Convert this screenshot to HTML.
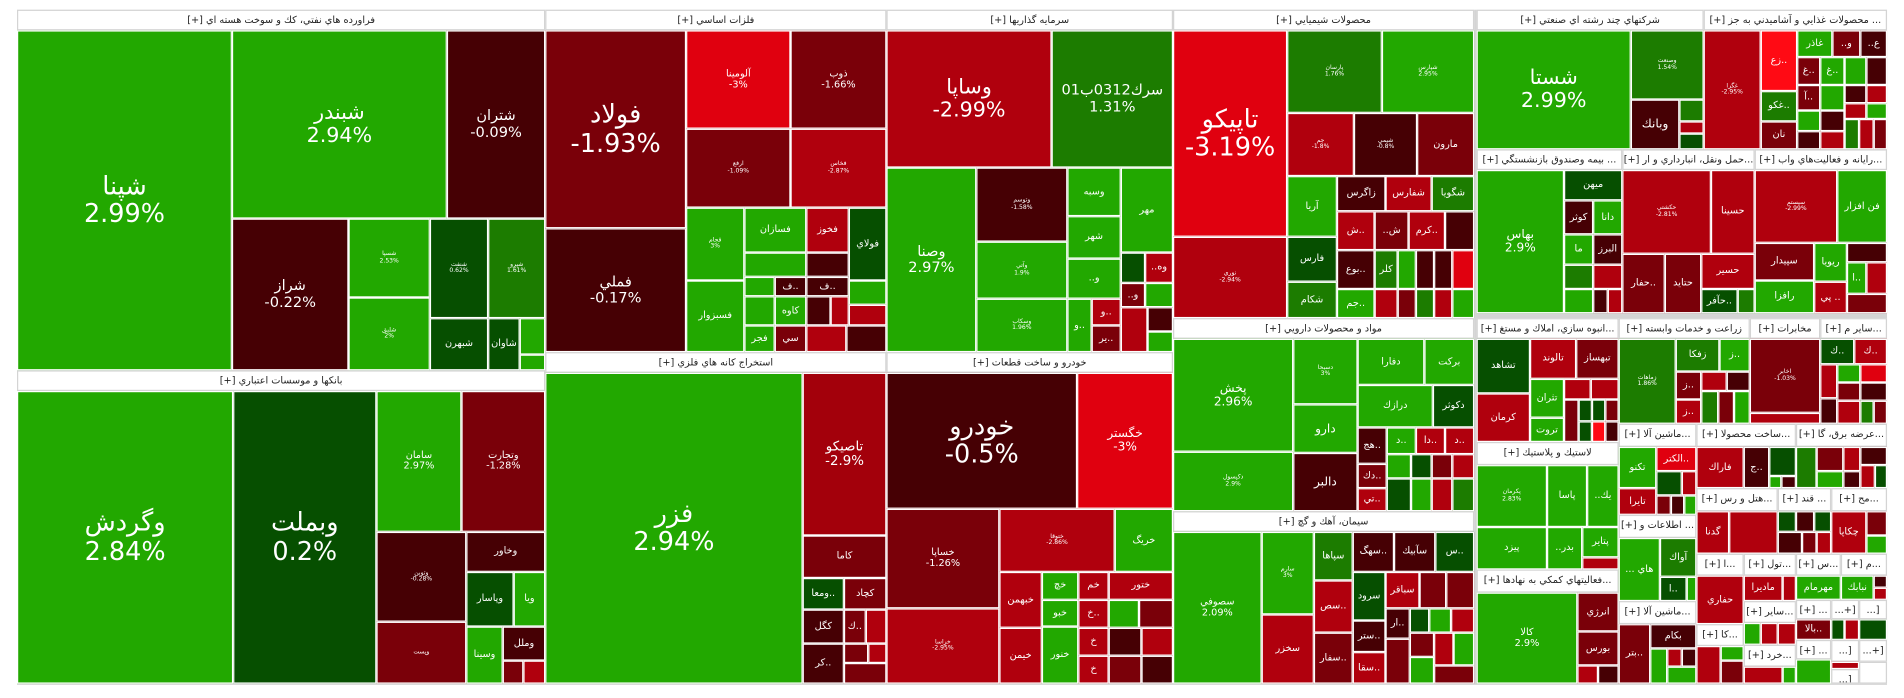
<!DOCTYPE html>
<html><head><meta charset="utf-8">
<style>
html,body{margin:0;padding:0;background:#fff;width:1904px;height:698px;overflow:hidden}
#w{position:absolute;left:0;top:0;width:1568px;height:575px;transform:scale(1.2143);transform-origin:0 0}
#bg{position:absolute;left:14px;top:8px;width:1540px;height:556px;background:#d4d4d4}
.c{position:absolute;box-sizing:border-box;border:1px solid #fff;color:#fff;display:flex;flex-direction:column;align-items:center;justify-content:center;text-align:center;line-height:1.1;overflow:hidden;font-family:"DejaVu Sans","Liberation Sans",sans-serif;font-size:8px;white-space:nowrap}
.h{position:absolute;box-sizing:border-box;background:#fff;border:1px solid #d4d4d4;color:#222;font-family:"DejaVu Sans","Liberation Sans",sans-serif;font-size:8px;text-align:center;line-height:16px;overflow:hidden;white-space:nowrap;direction:rtl}
.g{background:#22a800}.dg{background:#064f00}.mg{background:#1c7c00}
.r{background:#e0000f}.rr{background:#ff0a14}.r2{background:#b0000d}.dr{background:#7a0009}.xr{background:#460004}
.f1{font-size:21px}.f2{font-size:17px}.f3{font-size:12px}.f4{font-size:9px}.f5{font-size:5px}
</style></head><body><div id="w">
<div id="bg"></div>
<!-- Sector A -->
<div class="h" style="left:14px;top:8px;width:435px;height:17px">فراورده هاي نفتي، كك و سوخت هسته اي [+]</div>
<div class="c g f1" style="left:14px;top:25px;width:177px;height:280px">شپنا<br>2.99%</div>
<div class="c g f2" style="left:191px;top:25px;width:177px;height:155px">شبندر<br>2.94%</div>
<div class="c xr f3" style="left:368px;top:25px;width:81px;height:155px">شتران<br>-0.09%</div>
<div class="c xr f3" style="left:191px;top:180px;width:96px;height:125px">شراز<br>-0.22%</div>
<div class="c g f5" style="left:287px;top:180px;width:67px;height:65px">شسپا<br>2.53%</div>
<div class="c g f5" style="left:287px;top:245px;width:67px;height:60px">شلیق<br>2%</div>
<div class="c dg f5" style="left:354px;top:180px;width:48px;height:82px">شنفت<br>0.62%</div>
<div class="c mg f5" style="left:402px;top:180px;width:47px;height:82px">شپرو<br>1.61%</div>
<div class="c dg" style="left:354px;top:262px;width:48px;height:43px">شبهرن</div>
<div class="c dg" style="left:402px;top:262px;width:26px;height:43px">شاوان</div>
<div class="c g" style="left:428px;top:262px;width:21px;height:30px"></div>
<div class="c g" style="left:428px;top:292px;width:21px;height:13px"></div>
<!-- Sector B -->
<div class="h" style="left:14px;top:305px;width:435px;height:17px">بانكها و موسسات اعتباري [+]</div>
<div class="c g f1" style="left:14px;top:322px;width:178px;height:241px">وگردش<br>2.84%</div>
<div class="c dg f1" style="left:192px;top:322px;width:118px;height:241px">وبملت<br>0.2%</div>
<div class="c g" style="left:310px;top:322px;width:70px;height:116px">سامان<br>2.97%</div>
<div class="c dr" style="left:380px;top:322px;width:69px;height:116px">وتجارت<br>-1.28%</div>
<div class="c xr f5" style="left:310px;top:438px;width:74px;height:74px">وتوبن<br>-0.28%</div>
<div class="c dr f5" style="left:310px;top:512px;width:74px;height:51px">وپست</div>
<div class="c xr" style="left:384px;top:438px;width:65px;height:33px">وخاور</div>
<div class="c dg" style="left:384px;top:471px;width:39px;height:45px">وپاسار</div>
<div class="c g" style="left:423px;top:471px;width:26px;height:45px">ويا</div>
<div class="c g" style="left:384px;top:516px;width:30px;height:47px">وسينا</div>
<div class="c xr" style="left:414px;top:516px;width:35px;height:28px">وملل</div>
<div class="c dr" style="left:414px;top:544px;width:17px;height:19px"></div>
<div class="c r2" style="left:431px;top:544px;width:18px;height:19px"></div>
<!-- Metals -->
<div class="h" style="left:449px;top:8px;width:281px;height:17px">فلزات اساسي [+]</div>
<div class="c dr f1" style="left:449px;top:25px;width:116px;height:163px">فولاد<br>-1.93%</div>
<div class="c xr f3" style="left:449px;top:188px;width:116px;height:102px">فملي<br>-0.17%</div>
<div class="c r" style="left:565px;top:25px;width:86px;height:81px">آلومينا<br>-3%</div>
<div class="c dr" style="left:651px;top:25px;width:79px;height:81px">ذوب<br>-1.66%</div>
<div class="c dr f5" style="left:565px;top:106px;width:86px;height:65px">ارفع<br>-1.09%</div>
<div class="c r2 f5" style="left:651px;top:106px;width:79px;height:65px">فخاس<br>-2.87%</div>
<div class="c g f5" style="left:565px;top:171px;width:48px;height:60px">فجام<br>3%</div>
<div class="c g" style="left:613px;top:171px;width:51px;height:37px">فسازان</div>
<div class="c r2" style="left:664px;top:171px;width:35px;height:37px">فخوز</div>
<div class="c dg" style="left:699px;top:171px;width:31px;height:60px">فولاي</div>
<div class="c g" style="left:565px;top:231px;width:48px;height:59px">فسبزوار</div>
<div class="c g" style="left:613px;top:208px;width:51px;height:20px"></div>
<div class="c g" style="left:613px;top:228px;width:25px;height:16px"></div>
<div class="c xr" style="left:638px;top:228px;width:26px;height:16px">ف..</div>
<div class="c xr" style="left:664px;top:208px;width:35px;height:20px"></div>
<div class="c xr" style="left:664px;top:228px;width:35px;height:16px">ف..</div>
<div class="c g" style="left:613px;top:244px;width:25px;height:24px"></div>
<div class="c g" style="left:638px;top:244px;width:26px;height:24px">كاوه</div>
<div class="c xr" style="left:664px;top:244px;width:20px;height:24px"></div>
<div class="c r2" style="left:684px;top:244px;width:15px;height:24px"></div>
<div class="c g" style="left:699px;top:231px;width:31px;height:20px"></div>
<div class="c r2" style="left:699px;top:251px;width:31px;height:17px"></div>
<div class="c g" style="left:613px;top:268px;width:25px;height:22px">فجر</div>
<div class="c dr" style="left:638px;top:268px;width:26px;height:22px">سي</div>
<div class="c r2" style="left:664px;top:268px;width:33px;height:22px"></div>
<div class="c xr" style="left:697px;top:268px;width:33px;height:22px"></div>
<!-- Mining -->
<div class="h" style="left:449px;top:290px;width:281px;height:17px">استخراج كانه هاي فلزي [+]</div>
<div class="c g f1" style="left:449px;top:307px;width:212px;height:256px">فزر<br>2.94%</div>
<div class="c r2" style="left:661px;top:307px;width:69px;height:134px;font-size:11px;background:#a3000b">تاصيكو<br>-2.9%</div>
<div class="c dr" style="left:661px;top:441px;width:69px;height:35px">كاما</div>
<div class="c dg" style="left:661px;top:476px;width:34px;height:26px">ومعا..</div>
<div class="c dr" style="left:695px;top:476px;width:35px;height:26px">كچاد</div>
<div class="c xr" style="left:661px;top:502px;width:34px;height:28px">كگل</div>
<div class="c dr" style="left:695px;top:502px;width:18px;height:28px">ك..</div>
<div class="c r2" style="left:713px;top:502px;width:17px;height:28px"></div>
<div class="c xr" style="left:661px;top:530px;width:34px;height:33px">كر..</div>
<div class="c dr" style="left:695px;top:530px;width:20px;height:16px"></div>
<div class="c r2" style="left:715px;top:530px;width:15px;height:16px"></div>
<div class="c dr" style="left:695px;top:546px;width:35px;height:17px"></div>
<!-- Investments -->
<div class="h" style="left:730px;top:8px;width:236px;height:17px">سرمايه گذاريها [+]</div>
<div class="c r2 f2" style="left:730px;top:25px;width:136px;height:113px">وساپا<br>-2.99%</div>
<div class="c mg f3" style="left:866px;top:25px;width:100px;height:113px">سرك0312ب01<br>1.31%</div>
<div class="c g f3" style="left:730px;top:138px;width:74px;height:152px">وصنا<br>2.97%</div>
<div class="c xr f5" style="left:804px;top:138px;width:75px;height:61px">وتوسم<br>-1.58%</div>
<div class="c g f5" style="left:804px;top:199px;width:75px;height:47px">وآتي<br>1.9%</div>
<div class="c g f5" style="left:804px;top:246px;width:75px;height:44px">وسكاب<br>1.96%</div>
<div class="c g" style="left:879px;top:138px;width:44px;height:40px">وسبه</div>
<div class="c g" style="left:923px;top:138px;width:43px;height:70px">مهر</div>
<div class="c g" style="left:879px;top:178px;width:44px;height:35px">شهر</div>
<div class="c dg" style="left:923px;top:208px;width:20px;height:25px"></div>
<div class="c r2" style="left:943px;top:208px;width:23px;height:25px">..وه</div>
<div class="c g" style="left:879px;top:213px;width:44px;height:33px">..و</div>
<div class="c dr" style="left:923px;top:233px;width:20px;height:20px">..و</div>
<div class="c g" style="left:943px;top:233px;width:23px;height:20px"></div>
<div class="c g" style="left:879px;top:246px;width:20px;height:44px">و..</div>
<div class="c r2" style="left:899px;top:246px;width:24px;height:22px">و..</div>
<div class="c dr" style="left:899px;top:268px;width:24px;height:22px">ير..</div>
<div class="c r2" style="left:923px;top:253px;width:22px;height:37px"></div>
<div class="c xr" style="left:945px;top:253px;width:21px;height:20px"></div>
<div class="c g" style="left:945px;top:273px;width:21px;height:17px"></div>
<!-- Auto -->
<div class="h" style="left:730px;top:290px;width:236px;height:17px">خودرو و ساخت قطعات [+]</div>
<div class="c xr f1" style="left:730px;top:307px;width:157px;height:112px">خودرو<br>-0.5%</div>
<div class="c r" style="left:887px;top:307px;width:79px;height:112px;font-size:10px">خگستر<br>-3%</div>
<div class="c dr" style="left:730px;top:419px;width:93px;height:82px">خساپا<br>-1.26%</div>
<div class="c r2 f5" style="left:730px;top:501px;width:93px;height:62px">خراسا<br>-2.95%</div>
<div class="c r2 f5" style="left:823px;top:419px;width:95px;height:52px">ختوقا<br>-2.86%</div>
<div class="c g" style="left:918px;top:419px;width:48px;height:52px">خريگ</div>
<div class="c r2" style="left:823px;top:471px;width:35px;height:46px">خبهمن</div>
<div class="c r2" style="left:823px;top:517px;width:35px;height:46px">خيمن</div>
<div class="c g" style="left:858px;top:471px;width:30px;height:23px">خچ</div>
<div class="c g" style="left:858px;top:494px;width:30px;height:22px">خبو</div>
<div class="c g" style="left:858px;top:516px;width:30px;height:47px">خنور</div>
<div class="c r2" style="left:888px;top:471px;width:25px;height:23px">خم</div>
<div class="c r2" style="left:913px;top:471px;width:53px;height:23px">ختور</div>
<div class="c r2" style="left:888px;top:494px;width:25px;height:23px">خ..</div>
<div class="c g" style="left:913px;top:494px;width:25px;height:23px"></div>
<div class="c dr" style="left:938px;top:494px;width:28px;height:23px"></div>
<div class="c r2" style="left:888px;top:517px;width:25px;height:23px">خ</div>
<div class="c r2" style="left:888px;top:540px;width:25px;height:23px">خ</div>
<div class="c xr" style="left:913px;top:517px;width:27px;height:23px"></div>
<div class="c r2" style="left:940px;top:517px;width:26px;height:23px"></div>
<div class="c dr" style="left:913px;top:540px;width:27px;height:23px"></div>
<div class="c xr" style="left:940px;top:540px;width:26px;height:23px"></div>
<!-- Chemical -->
<div class="h" style="left:966px;top:8px;width:248px;height:17px">محصولات شيميايي [+]</div>
<div class="c r f1" style="left:966px;top:25px;width:94px;height:170px">تاپيكو<br>-3.19%</div>
<div class="c r2 f5" style="left:966px;top:195px;width:94px;height:67px">نوري<br>-2.94%</div>
<div class="c mg f5" style="left:1060px;top:25px;width:78px;height:68px">پارسان<br>1.76%</div>
<div class="c g f5" style="left:1138px;top:25px;width:76px;height:68px">شپارس<br>2.95%</div>
<div class="c r2 f5" style="left:1060px;top:93px;width:55px;height:52px">جم<br>-1.8%</div>
<div class="c xr f5" style="left:1115px;top:93px;width:52px;height:52px">شيمي<br>-0.8%</div>
<div class="c dr" style="left:1167px;top:93px;width:47px;height:52px">مارون</div>
<div class="c g" style="left:1060px;top:145px;width:41px;height:50px">آريا</div>
<div class="c xr" style="left:1101px;top:145px;width:40px;height:29px">زاگرس</div>
<div class="c r2" style="left:1141px;top:145px;width:38px;height:29px">شفارس</div>
<div class="c mg" style="left:1179px;top:145px;width:35px;height:29px">شگويا</div>
<div class="c dg" style="left:1060px;top:195px;width:41px;height:37px">فارس</div>
<div class="c mg" style="left:1060px;top:232px;width:41px;height:30px">شكام</div>
<div class="c r2" style="left:1101px;top:174px;width:31px;height:32px">ش..</div>
<div class="c dr" style="left:1132px;top:174px;width:28px;height:32px">..ش</div>
<div class="c r2" style="left:1160px;top:174px;width:30px;height:32px">كرم..</div>
<div class="c xr" style="left:1190px;top:174px;width:24px;height:32px"></div>
<div class="c xr" style="left:1101px;top:206px;width:31px;height:32px">بوع..</div>
<div class="c mg" style="left:1132px;top:206px;width:19px;height:32px">كلر</div>
<div class="c g" style="left:1151px;top:206px;width:15px;height:32px"></div>
<div class="c xr" style="left:1166px;top:206px;width:15px;height:32px"></div>
<div class="c xr" style="left:1181px;top:206px;width:15px;height:32px"></div>
<div class="c r" style="left:1196px;top:206px;width:18px;height:32px"></div>
<div class="c g" style="left:1101px;top:238px;width:31px;height:24px">جم..</div>
<div class="c r2" style="left:1132px;top:238px;width:19px;height:24px"></div>
<div class="c dr" style="left:1151px;top:238px;width:15px;height:24px"></div>
<div class="c mg" style="left:1166px;top:238px;width:15px;height:24px"></div>
<div class="c r2" style="left:1181px;top:238px;width:15px;height:24px"></div>
<div class="c g" style="left:1196px;top:238px;width:18px;height:24px"></div>
<!-- Pharma -->
<div class="h" style="left:966px;top:262px;width:248px;height:17px">مواد و محصولات دارويي [+]</div>
<div class="c g" style="left:966px;top:279px;width:99px;height:93px;font-size:10px">پخش<br>2.96%</div>
<div class="c g f5" style="left:966px;top:372px;width:99px;height:49px">دكپسول<br>2.9%</div>
<div class="c g f5" style="left:1065px;top:279px;width:53px;height:54px">دسبحا<br>3%</div>
<div class="c g" style="left:1065px;top:333px;width:53px;height:40px;font-size:10px">دارو</div>
<div class="c xr" style="left:1065px;top:373px;width:53px;height:48px;font-size:10px">دالبر</div>
<div class="c g" style="left:1118px;top:279px;width:55px;height:38px">دفارا</div>
<div class="c g" style="left:1173px;top:279px;width:41px;height:38px">بركت</div>
<div class="c g" style="left:1118px;top:317px;width:62px;height:35px">درازك</div>
<div class="c dg" style="left:1180px;top:317px;width:34px;height:35px">دكوثر</div>
<div class="c xr" style="left:1118px;top:352px;width:24px;height:30px">هج..</div>
<div class="c dr" style="left:1118px;top:382px;width:24px;height:20px">دك..</div>
<div class="c r2" style="left:1118px;top:402px;width:24px;height:19px">تي..</div>
<div class="c g" style="left:1142px;top:352px;width:24px;height:22px">د..</div>
<div class="c r2" style="left:1166px;top:352px;width:24px;height:22px">دا..</div>
<div class="c r2" style="left:1190px;top:352px;width:24px;height:22px">د..</div>
<div class="c g" style="left:1142px;top:374px;width:20px;height:20px"></div>
<div class="c dg" style="left:1162px;top:374px;width:17px;height:20px"></div>
<div class="c dr" style="left:1179px;top:374px;width:17px;height:20px"></div>
<div class="c r2" style="left:1196px;top:374px;width:18px;height:20px"></div>
<div class="c dg" style="left:1142px;top:394px;width:20px;height:27px"></div>
<div class="c g" style="left:1162px;top:394px;width:17px;height:27px"></div>
<div class="c r2" style="left:1179px;top:394px;width:17px;height:27px"></div>
<div class="c mg" style="left:1196px;top:394px;width:18px;height:27px"></div>
<!-- Cement -->
<div class="h" style="left:966px;top:421px;width:248px;height:17px">سيمان، آهك و گچ [+]</div>
<div class="c g" style="left:966px;top:438px;width:73px;height:125px">سصوفي<br>2.09%</div>
<div class="c g f5" style="left:1039px;top:438px;width:43px;height:68px">سارم<br>3%</div>
<div class="c r2" style="left:1039px;top:506px;width:43px;height:57px">سخزر</div>
<div class="c mg" style="left:1082px;top:438px;width:32px;height:40px">سپاها</div>
<div class="c r2" style="left:1082px;top:478px;width:32px;height:43px">سص..</div>
<div class="c dr" style="left:1082px;top:521px;width:32px;height:42px">سفار..</div>
<div class="c xr" style="left:1114px;top:438px;width:34px;height:33px">سهگ..</div>
<div class="c xr" style="left:1148px;top:438px;width:34px;height:33px">سآبيك</div>
<div class="c dg" style="left:1182px;top:438px;width:32px;height:33px">س..</div>
<div class="c dg" style="left:1114px;top:471px;width:27px;height:40px">سرود</div>
<div class="c r2" style="left:1141px;top:471px;width:28px;height:30px">سباقر</div>
<div class="c dr" style="left:1169px;top:471px;width:22px;height:30px"></div>
<div class="c dr" style="left:1191px;top:471px;width:23px;height:30px"></div>
<div class="c xr" style="left:1114px;top:511px;width:27px;height:26px">ستر..</div>
<div class="c r2" style="left:1114px;top:537px;width:27px;height:26px">سقا..</div>
<div class="c xr" style="left:1141px;top:501px;width:20px;height:25px">ار..</div>
<div class="c dg" style="left:1161px;top:501px;width:16px;height:20px"></div>
<div class="c g" style="left:1177px;top:501px;width:18px;height:20px"></div>
<div class="c r2" style="left:1195px;top:501px;width:19px;height:20px"></div>
<div class="c dr" style="left:1141px;top:526px;width:20px;height:37px"></div>
<div class="c dr" style="left:1161px;top:521px;width:20px;height:20px"></div>
<div class="c g" style="left:1161px;top:541px;width:20px;height:22px"></div>
<div class="c r2" style="left:1181px;top:521px;width:16px;height:27px"></div>
<div class="c g" style="left:1197px;top:521px;width:17px;height:27px"></div>
<div class="c dr" style="left:1181px;top:548px;width:33px;height:15px"></div>
<!-- Multi-industry -->
<div class="h" style="left:1216px;top:8px;width:187px;height:17px">شركتهاي چند رشته اي صنعتي [+]</div>
<div class="c g f2" style="left:1216px;top:25px;width:127px;height:98px">شستا<br>2.99%</div>
<div class="c mg f5" style="left:1343px;top:25px;width:60px;height:57px">وصنعت<br>1.54%</div>
<div class="c xr" style="left:1343px;top:82px;width:40px;height:41px;font-size:10px">وبانك</div>
<div class="c mg" style="left:1383px;top:82px;width:20px;height:18px"></div>
<div class="c r2" style="left:1383px;top:100px;width:20px;height:10px"></div>
<div class="c dg" style="left:1383px;top:110px;width:20px;height:13px"></div>
<!-- Food -->
<div class="h" style="left:1403px;top:8px;width:151px;height:17px">... محصولات غذايي و آشاميدني به جز [+]</div>
<div class="c r2 f5" style="left:1403px;top:25px;width:47px;height:98px">غگرا<br>-2.95%</div>
<div class="c rr" style="left:1450px;top:25px;width:30px;height:50px">زع..</div>
<div class="c mg" style="left:1450px;top:75px;width:30px;height:25px">غكو..</div>
<div class="c dr" style="left:1450px;top:100px;width:30px;height:23px">نان</div>
<div class="c g" style="left:1480px;top:25px;width:29px;height:22px">غاذر</div>
<div class="c dr" style="left:1509px;top:25px;width:23px;height:22px">..و</div>
<div class="c xr" style="left:1532px;top:25px;width:22px;height:22px">..ع</div>
<div class="c dr" style="left:1480px;top:47px;width:19px;height:23px">غ..</div>
<div class="c g" style="left:1499px;top:47px;width:20px;height:23px">غ..</div>
<div class="c g" style="left:1519px;top:47px;width:18px;height:23px"></div>
<div class="c xr" style="left:1537px;top:47px;width:17px;height:23px"></div>
<div class="c dr" style="left:1480px;top:70px;width:19px;height:21px">آ..</div>
<div class="c g" style="left:1480px;top:91px;width:19px;height:17px"></div>
<div class="c xr" style="left:1480px;top:108px;width:19px;height:15px"></div>
<div class="c g" style="left:1499px;top:70px;width:20px;height:21px"></div>
<div class="c xr" style="left:1499px;top:91px;width:20px;height:17px"></div>
<div class="c r2" style="left:1499px;top:108px;width:20px;height:15px"></div>
<div class="c xr" style="left:1519px;top:70px;width:18px;height:15px"></div>
<div class="c r2" style="left:1537px;top:70px;width:17px;height:15px"></div>
<div class="c r2" style="left:1519px;top:85px;width:18px;height:13px"></div>
<div class="c g" style="left:1537px;top:85px;width:17px;height:13px"></div>
<div class="c mg" style="left:1519px;top:98px;width:12px;height:25px"></div>
<div class="c r2" style="left:1531px;top:98px;width:12px;height:25px"></div>
<div class="c dr" style="left:1543px;top:98px;width:11px;height:25px"></div>
<!-- Insurance -->
<div class="h" style="left:1216px;top:123px;width:120px;height:17px">... بيمه وصندوق بازنشستگي [+]</div>
<div class="c g" style="left:1216px;top:140px;width:72px;height:118px;font-size:10px">بهاس<br>2.9%</div>
<div class="c dg" style="left:1288px;top:140px;width:48px;height:25px">ميهن</div>
<div class="c xr" style="left:1288px;top:165px;width:24px;height:28px">كوثر</div>
<div class="c g" style="left:1312px;top:165px;width:24px;height:28px">دانا</div>
<div class="c g" style="left:1288px;top:193px;width:24px;height:25px">ما</div>
<div class="c xr" style="left:1312px;top:193px;width:24px;height:25px">البرز</div>
<div class="c mg" style="left:1288px;top:218px;width:24px;height:20px"></div>
<div class="c r2" style="left:1312px;top:218px;width:24px;height:20px"></div>
<div class="c g" style="left:1288px;top:238px;width:24px;height:20px"></div>
<div class="c xr" style="left:1312px;top:238px;width:12px;height:20px"></div>
<div class="c r2" style="left:1324px;top:238px;width:12px;height:20px"></div>
<!-- Transport -->
<div class="h" style="left:1336px;top:123px;width:109px;height:17px">...حمل ونقل، انبارداري و ار [+]</div>
<div class="c r2 f5" style="left:1336px;top:140px;width:73px;height:69px">حكشتي<br>-2.81%</div>
<div class="c r2" style="left:1409px;top:140px;width:36px;height:69px">حسينا</div>
<div class="c dr" style="left:1336px;top:209px;width:35px;height:49px">حفار..</div>
<div class="c dr" style="left:1371px;top:209px;width:30px;height:49px">حتايد</div>
<div class="c r2" style="left:1401px;top:209px;width:44px;height:29px">حسير</div>
<div class="c dg" style="left:1401px;top:238px;width:30px;height:20px">حآفر..</div>
<div class="c mg" style="left:1431px;top:238px;width:14px;height:20px"></div>
<!-- IT -->
<div class="h" style="left:1445px;top:123px;width:109px;height:17px">...رايانه و فعاليت‌هاي واب [+]</div>
<div class="c r2 f5" style="left:1445px;top:140px;width:68px;height:60px">سيستم<br>-2.99%</div>
<div class="c g" style="left:1513px;top:140px;width:41px;height:60px">فن افزار</div>
<div class="c dr" style="left:1445px;top:200px;width:49px;height:31px">سپيدار</div>
<div class="c g" style="left:1445px;top:231px;width:49px;height:27px">رافزا</div>
<div class="c g" style="left:1494px;top:200px;width:27px;height:32px">ريويا</div>
<div class="c xr" style="left:1521px;top:200px;width:33px;height:16px"></div>
<div class="c g" style="left:1521px;top:216px;width:16px;height:26px">ا..</div>
<div class="c r2" style="left:1537px;top:216px;width:17px;height:26px"></div>
<div class="c r2" style="left:1494px;top:232px;width:27px;height:26px">پي ..</div>
<div class="c dr" style="left:1521px;top:242px;width:33px;height:16px"></div>
<!-- Real estate -->
<div class="h" style="left:1216px;top:262px;width:117px;height:17px">...انبوه سازي، املاك و مستغ [+]</div>
<div class="c dg" style="left:1216px;top:279px;width:44px;height:45px">تشاهد</div>
<div class="c r2" style="left:1216px;top:324px;width:44px;height:40px">كرمان</div>
<div class="c r2" style="left:1260px;top:279px;width:38px;height:33px">تالوند</div>
<div class="c dr" style="left:1298px;top:279px;width:35px;height:33px">تبهساز</div>
<div class="c g" style="left:1260px;top:312px;width:28px;height:32px">تثران</div>
<div class="c g" style="left:1260px;top:344px;width:28px;height:20px">تروت</div>
<div class="c r2" style="left:1288px;top:312px;width:22px;height:17px"></div>
<div class="c r2" style="left:1310px;top:312px;width:23px;height:17px"></div>
<div class="c dr" style="left:1288px;top:329px;width:12px;height:35px"></div>
<div class="c dg" style="left:1300px;top:329px;width:11px;height:18px"></div>
<div class="c dg" style="left:1311px;top:329px;width:11px;height:18px"></div>
<div class="c dr" style="left:1322px;top:329px;width:11px;height:18px"></div>
<div class="c dg" style="left:1300px;top:347px;width:11px;height:17px"></div>
<div class="c rr" style="left:1311px;top:347px;width:11px;height:17px"></div>
<div class="c xr" style="left:1322px;top:347px;width:11px;height:17px"></div>
<!-- Rubber -->
<div class="h" style="left:1216px;top:364px;width:117px;height:19px">لاستيك و پلاستيك [+]</div>
<div class="c g f5" style="left:1216px;top:383px;width:58px;height:51px">پكرمان<br>2.83%</div>
<div class="c g" style="left:1274px;top:383px;width:33px;height:51px">پاسا</div>
<div class="c g" style="left:1307px;top:383px;width:26px;height:51px">..يك</div>
<div class="c g" style="left:1216px;top:434px;width:58px;height:35px">پيزد</div>
<div class="c g" style="left:1274px;top:434px;width:29px;height:35px">..بدر</div>
<div class="c g" style="left:1303px;top:434px;width:30px;height:25px">پتاير</div>
<div class="c r2" style="left:1303px;top:459px;width:30px;height:10px"></div>
<!-- Support -->
<div class="h" style="left:1216px;top:469px;width:117px;height:19px">...فعاليتهاي كمكي به نهادها [+]</div>
<div class="c g" style="left:1216px;top:488px;width:83px;height:75px">كالا<br>2.9%</div>
<div class="c dr" style="left:1299px;top:488px;width:34px;height:32px">انرژي</div>
<div class="c dr" style="left:1299px;top:520px;width:34px;height:28px">بورس</div>
<div class="c r2" style="left:1299px;top:548px;width:17px;height:15px"></div>
<div class="c xr" style="left:1316px;top:548px;width:17px;height:15px"></div>
<!-- Agri -->
<div class="h" style="left:1333px;top:262px;width:108px;height:17px">زراعت و خدمات وابسته [+]</div>
<div class="c mg f5" style="left:1333px;top:279px;width:47px;height:70px">زماهات<br>1.86%</div>
<div class="c mg" style="left:1380px;top:279px;width:36px;height:27px">زفكا</div>
<div class="c g" style="left:1416px;top:279px;width:25px;height:27px">ز..</div>
<div class="c dr" style="left:1380px;top:306px;width:21px;height:23px">ز..</div>
<div class="c r2" style="left:1401px;top:306px;width:21px;height:16px"></div>
<div class="c xr" style="left:1422px;top:306px;width:19px;height:16px"></div>
<div class="c r2" style="left:1380px;top:329px;width:21px;height:20px">ز..</div>
<div class="c mg" style="left:1401px;top:322px;width:14px;height:27px"></div>
<div class="c dr" style="left:1415px;top:322px;width:13px;height:27px"></div>
<div class="c g" style="left:1428px;top:322px;width:13px;height:27px"></div>
<!-- Telecom -->
<div class="h" style="left:1441px;top:262px;width:58px;height:17px">مخابرات [+]</div>
<div class="c dr f5" style="left:1441px;top:279px;width:58px;height:61px">اخابر<br>-1.03%</div>
<div class="c r2" style="left:1441px;top:340px;width:58px;height:9px"></div>
<!-- Other -->
<div class="h" style="left:1499px;top:262px;width:55px;height:17px">...ساير م [+]</div>
<div class="c dg" style="left:1499px;top:279px;width:28px;height:21px">ك..</div>
<div class="c r2" style="left:1527px;top:279px;width:27px;height:21px">ك..</div>
<div class="c r2" style="left:1499px;top:300px;width:14px;height:28px"></div>
<div class="c g" style="left:1513px;top:300px;width:19px;height:15px"></div>
<div class="c r" style="left:1532px;top:300px;width:22px;height:15px"></div>
<div class="c dr" style="left:1513px;top:315px;width:19px;height:15px"></div>
<div class="c xr" style="left:1532px;top:315px;width:22px;height:15px"></div>
<div class="c xr" style="left:1499px;top:328px;width:14px;height:21px"></div>
<div class="c r2" style="left:1513px;top:330px;width:19px;height:19px"></div>
<div class="c mg" style="left:1532px;top:330px;width:11px;height:19px"></div>
<div class="c dr" style="left:1543px;top:330px;width:11px;height:19px"></div>
<!-- Machinery 1 -->
<div class="h" style="left:1333px;top:349px;width:64px;height:19px">...ماشين آلا [+]</div>
<div class="c g" style="left:1333px;top:368px;width:31px;height:34px">تكنو</div>
<div class="c r" style="left:1364px;top:368px;width:33px;height:20px">الكتر..</div>
<div class="c dg" style="left:1364px;top:388px;width:21px;height:20px"></div>
<div class="c r2" style="left:1385px;top:388px;width:12px;height:20px"></div>
<div class="c r2" style="left:1333px;top:402px;width:31px;height:22px">تايرا</div>
<div class="c dr" style="left:1364px;top:408px;width:12px;height:16px"></div>
<div class="c xr" style="left:1376px;top:408px;width:11px;height:16px"></div>
<div class="c g" style="left:1387px;top:408px;width:10px;height:16px"></div>
<!-- Manufacturing -->
<div class="h" style="left:1397px;top:349px;width:82px;height:19px">...ساخت محصولا [+]</div>
<div class="c r2" style="left:1397px;top:368px;width:39px;height:34px">فاراك</div>
<div class="c xr" style="left:1436px;top:368px;width:21px;height:34px">ج..</div>
<div class="c dg" style="left:1457px;top:368px;width:22px;height:24px"></div>
<div class="c g" style="left:1457px;top:392px;width:10px;height:10px"></div>
<div class="c xr" style="left:1467px;top:392px;width:12px;height:10px"></div>
<!-- Utilities -->
<div class="h" style="left:1479px;top:349px;width:75px;height:19px">...عرضه برق، گا [+]</div>
<div class="c mg" style="left:1479px;top:368px;width:17px;height:34px"></div>
<div class="c dr" style="left:1496px;top:368px;width:22px;height:20px"></div>
<div class="c r2" style="left:1518px;top:368px;width:14px;height:20px"></div>
<div class="c xr" style="left:1532px;top:368px;width:22px;height:15px"></div>
<div class="c g" style="left:1496px;top:388px;width:22px;height:14px"></div>
<div class="c xr" style="left:1518px;top:388px;width:14px;height:14px"></div>
<div class="c r2" style="left:1532px;top:383px;width:12px;height:19px"></div>
<div class="c dg" style="left:1544px;top:383px;width:10px;height:19px"></div>
<!-- Hotel / Sugar / Other -->
<div class="h" style="left:1397px;top:402px;width:67px;height:19px">...هتل و رس [+]</div>
<div class="c r2" style="left:1397px;top:421px;width:27px;height:35px">گدنا</div>
<div class="c r2" style="left:1424px;top:421px;width:40px;height:35px"></div>
<div class="h" style="left:1464px;top:402px;width:44px;height:19px">... قند [+]</div>
<div class="c dg" style="left:1464px;top:421px;width:15px;height:17px"></div>
<div class="c xr" style="left:1479px;top:421px;width:15px;height:17px"></div>
<div class="c dg" style="left:1494px;top:421px;width:14px;height:17px"></div>
<div class="c xr" style="left:1464px;top:438px;width:20px;height:18px"></div>
<div class="c dr" style="left:1484px;top:438px;width:12px;height:18px"></div>
<div class="c r2" style="left:1496px;top:438px;width:12px;height:18px"></div>
<div class="h" style="left:1508px;top:402px;width:46px;height:19px">...مح [+]</div>
<div class="c r2" style="left:1508px;top:421px;width:29px;height:35px">چكاپا</div>
<div class="c dr" style="left:1537px;top:421px;width:17px;height:20px"></div>
<div class="c g" style="left:1537px;top:441px;width:17px;height:15px"></div>
<!-- Info -->
<div class="h" style="left:1333px;top:424px;width:64px;height:19px">... اطلاعات و [+]</div>
<div class="c g" style="left:1333px;top:443px;width:34px;height:52px">... هاي</div>
<div class="c mg" style="left:1367px;top:443px;width:30px;height:32px">آواك</div>
<div class="c dg" style="left:1367px;top:475px;width:22px;height:20px">ا..</div>
<div class="c g" style="left:1389px;top:475px;width:8px;height:20px"></div>
<!-- Row 4 -->
<div class="h" style="left:1397px;top:456px;width:39px;height:18px">...ا [+]</div>
<div class="c r2" style="left:1397px;top:474px;width:39px;height:40px">حفاري</div>
<div class="h" style="left:1436px;top:456px;width:43px;height:18px">...تول [+]</div>
<div class="c r2" style="left:1436px;top:474px;width:32px;height:21px">ماديرا</div>
<div class="c r2" style="left:1468px;top:474px;width:11px;height:21px"></div>
<div class="h" style="left:1479px;top:456px;width:37px;height:18px">...س [+]</div>
<div class="c g" style="left:1479px;top:474px;width:37px;height:20px">مهرمام</div>
<div class="h" style="left:1516px;top:456px;width:38px;height:18px">...م [+]</div>
<div class="c g" style="left:1516px;top:474px;width:27px;height:20px">نبابك</div>
<div class="c xr" style="left:1543px;top:474px;width:11px;height:10px"></div>
<div class="c r2" style="left:1543px;top:484px;width:11px;height:10px"></div>
<!-- Machinery 2 -->
<div class="h" style="left:1333px;top:495px;width:64px;height:19px">...ماشين آلا [+]</div>
<div class="c dr" style="left:1333px;top:514px;width:26px;height:49px">بتر..</div>
<div class="c xr" style="left:1359px;top:514px;width:38px;height:20px">بكام</div>
<div class="c g" style="left:1359px;top:534px;width:14px;height:29px"></div>
<div class="c r2" style="left:1373px;top:534px;width:12px;height:15px"></div>
<div class="c xr" style="left:1385px;top:534px;width:12px;height:15px"></div>
<div class="c g" style="left:1373px;top:549px;width:24px;height:14px"></div>
<!-- Misc bottom-right -->
<div class="h" style="left:1397px;top:514px;width:39px;height:18px">...كا [+]</div>
<div class="c r2" style="left:1397px;top:532px;width:20px;height:31px"></div>
<div class="c g" style="left:1417px;top:532px;width:19px;height:12px"></div>
<div class="c dr" style="left:1417px;top:544px;width:19px;height:19px"></div>
<div class="h" style="left:1436px;top:495px;width:43px;height:18px">...ساير [+]</div>
<div class="c g" style="left:1436px;top:513px;width:14px;height:18px"></div>
<div class="c r2" style="left:1450px;top:513px;width:14px;height:18px"></div>
<div class="c r2" style="left:1464px;top:513px;width:15px;height:18px"></div>
<div class="h" style="left:1436px;top:531px;width:43px;height:18px">...خرد [+]</div>
<div class="c r2" style="left:1436px;top:549px;width:32px;height:14px"></div>
<div class="c g" style="left:1468px;top:549px;width:11px;height:14px"></div>
<div class="h" style="left:1479px;top:494px;width:29px;height:16px">... [+]</div>
<div class="c dr" style="left:1479px;top:510px;width:29px;height:17px">بالا..</div>
<div class="h" style="left:1479px;top:527px;width:29px;height:16px">... [+]</div>
<div class="c g" style="left:1479px;top:543px;width:29px;height:20px"></div>
<div class="h" style="left:1508px;top:494px;width:23px;height:16px">[+...</div>
<div class="c dg" style="left:1508px;top:510px;width:11px;height:17px"></div>
<div class="c r2" style="left:1519px;top:510px;width:12px;height:17px"></div>
<div class="h" style="left:1531px;top:494px;width:23px;height:16px">[...</div>
<div class="c dg" style="left:1531px;top:510px;width:23px;height:17px"></div>
<div class="h" style="left:1508px;top:527px;width:23px;height:18px">[...</div>
<div class="c r2" style="left:1508px;top:545px;width:23px;height:6px"></div>
<div class="h" style="left:1531px;top:527px;width:23px;height:18px">[+...</div>
<div class="h" style="left:1508px;top:551px;width:23px;height:12px">[...</div>
<div class="h" style="left:1531px;top:545px;width:23px;height:18px"></div>
</div></body></html>
